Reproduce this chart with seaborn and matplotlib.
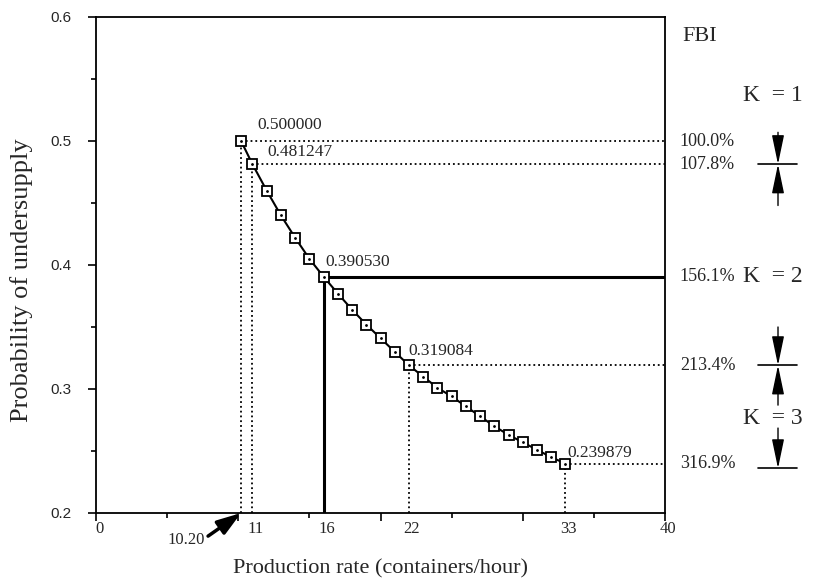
import matplotlib
matplotlib.use("Agg")
import matplotlib.pyplot as plt
import seaborn as sns
from matplotlib.ticker import MultipleLocator, NullFormatter

# values
rate = [10.2, 11, 12, 13, 14, 15, 16, 17, 18, 19, 20, 21, 22,
        23, 24, 25, 26, 27, 28, 29, 30, 31, 32, 33]
prob = [0.500000, 0.481247, 0.460, 0.440, 0.422, 0.405, 0.390530,
        0.377, 0.364, 0.352, 0.341, 0.330, 0.319084,
        0.310, 0.301, 0.294, 0.286, 0.278, 0.270, 0.263,
        0.257, 0.251, 0.245, 0.239879]

key_rate = [10.2, 11, 16, 22, 33]
key_prob = [0.500000, 0.481247, 0.390530, 0.319084, 0.239879]
key_text = ["0.500000", "0.481247", "0.390530", "0.319084", "0.239879"]
fbi_text = ["100.0%", "107.8%", "156.1%", "213.4%", "316.9%"]

xtick_pos = [0, 11, 16, 22, 33, 40]
xtick_lab = ["0", "11", "16", "22", "33", "40"]
ytick_pos = [0.2, 0.3, 0.4, 0.5, 0.6]

k_text = ["K  = 1", "K  = 2", "K  = 3"]
k_y = [0.537, 0.390530, 0.2766]

# arrows on the right: tail level, tip level
arrow_tail = [0.507, 0.448, 0.350, 0.287, 0.2685]
arrow_tip = [0.481247, 0.481247, 0.319084, 0.319084, 0.236]
bar_y = [0.481247, 0.319084, 0.236]

sns.set_theme(style="white")
plt.rcParams['font.family'] = ['Liberation Serif', 'DejaVu Serif']

fig, ax = plt.subplots(figsize=(8.13, 5.82), dpi=100)
fig.subplots_adjust(left=96/813, right=665/813, bottom=69/582, top=565/582)

# guide lines from the key points
for i in range(len(key_rate)):
    x, y = key_rate[i], key_prob[i]
    if x == 16:
        ls, lw = '-', 2.2
    else:
        ls, lw = ':', 1.3
    ax.plot([x, 40], [y, y], color='black', ls=ls, lw=lw, zorder=2)
    ax.plot([x, x], [0.2, y], color='black', ls=ls, lw=lw, zorder=2)

sns.lineplot(x=rate, y=prob, ax=ax, color='black', lw=1.5, marker='s',
             markersize=6.5, markerfacecolor='white', markeredgecolor='black',
             markeredgewidth=1.3, zorder=4)
ax.plot(rate, prob, ls='none', marker='.', ms=2, color='black', zorder=5)

offsets = [(16, 16), (15, 12), (2, 15), (-1, 14), (2, 11)]
for i in range(len(key_rate)):
    ax.annotate(key_text[i], xy=(key_rate[i], key_prob[i]), xytext=offsets[i],
                textcoords='offset pixels', ha='left', va='center', fontsize=12.5)

ax.set_xlim(0, 40)
ax.set_ylim(0.2, 0.6)

ax.xaxis.set_major_locator(MultipleLocator(10))
ax.xaxis.set_minor_locator(MultipleLocator(5))
ax.xaxis.set_major_formatter(NullFormatter())
ax.yaxis.set_major_locator(MultipleLocator(0.1))
ax.yaxis.set_minor_locator(MultipleLocator(0.05))
ax.set_yticks(ytick_pos)
ax.set_yticklabels([f"{v:.1f}" for v in ytick_pos], family='Liberation Sans', fontsize=11)
ax.tick_params(axis='both', which='major', direction='out', length=6, width=1.2, color='black')
ax.tick_params(axis='both', which='minor', direction='out', length=3.5, width=1.2, color='black')
ax.tick_params(axis='y', which='major', pad=12)
ax.tick_params(bottom=True, left=True, which='both')

xtrans = ax.get_xaxis_transform()
for p, lab in zip(xtick_pos, xtick_lab):
    ax.annotate(lab, xy=(p, 0), xycoords=xtrans, xytext=(3, -16),
                textcoords='offset pixels', ha='center', va='center', fontsize=12)

ax.annotate("10.20", xy=(10.2, 0.2), xytext=(-55, -27), textcoords='offset pixels',
            ha='center', va='center', fontsize=12, annotation_clip=False,
            arrowprops=dict(arrowstyle='-|>,head_length=0.9,head_width=0.3',
                            mutation_scale=16, color='black', lw=2.5,
                            shrinkA=0, shrinkB=0, relpos=(1.0, 0.6)))

for s in ax.spines.values():
    s.set_color('black')
    s.set_linewidth(1.3)

ax.set_xlabel("Production rate (containers/hour)", fontsize=16)
ax.set_ylabel("Probability of undersupply", fontsize=19)
ax.xaxis.set_label_coords(0.5, -0.093)
ax.yaxis.set_label_coords(-0.11, 0.47)

# right-hand side annotations
ytrans = ax.get_yaxis_transform()
ax.text(1.03, 0.584, "FBI", transform=ytrans, fontsize=16, ha='left', va='center')
for y, t in zip(key_prob, fbi_text):
    ax.text(1.026, y, t, transform=ytrans, fontsize=13, ha='left', va='center')
for y, t in zip(k_y, k_text):
    ax.text(1.137, y, t, transform=ytrans, fontsize=17, ha='left', va='center')

ax_x = 1.1986
for tail, tip in zip(arrow_tail, arrow_tip):
    ax.annotate("", xy=(ax_x, tip), xytext=(ax_x, tail), xycoords=ytrans,
                textcoords=ytrans, annotation_clip=False,
                arrowprops=dict(arrowstyle='-|>,head_length=1.2,head_width=0.25',
                                mutation_scale=15, color='black', lw=1,
                                shrinkA=0, shrinkB=0))
for y in bar_y:
    ax.plot([1.163, 1.232], [y, y], transform=ytrans, color='black', lw=1.2,
            clip_on=False)

fig.savefig("out.png", dpi=100)
